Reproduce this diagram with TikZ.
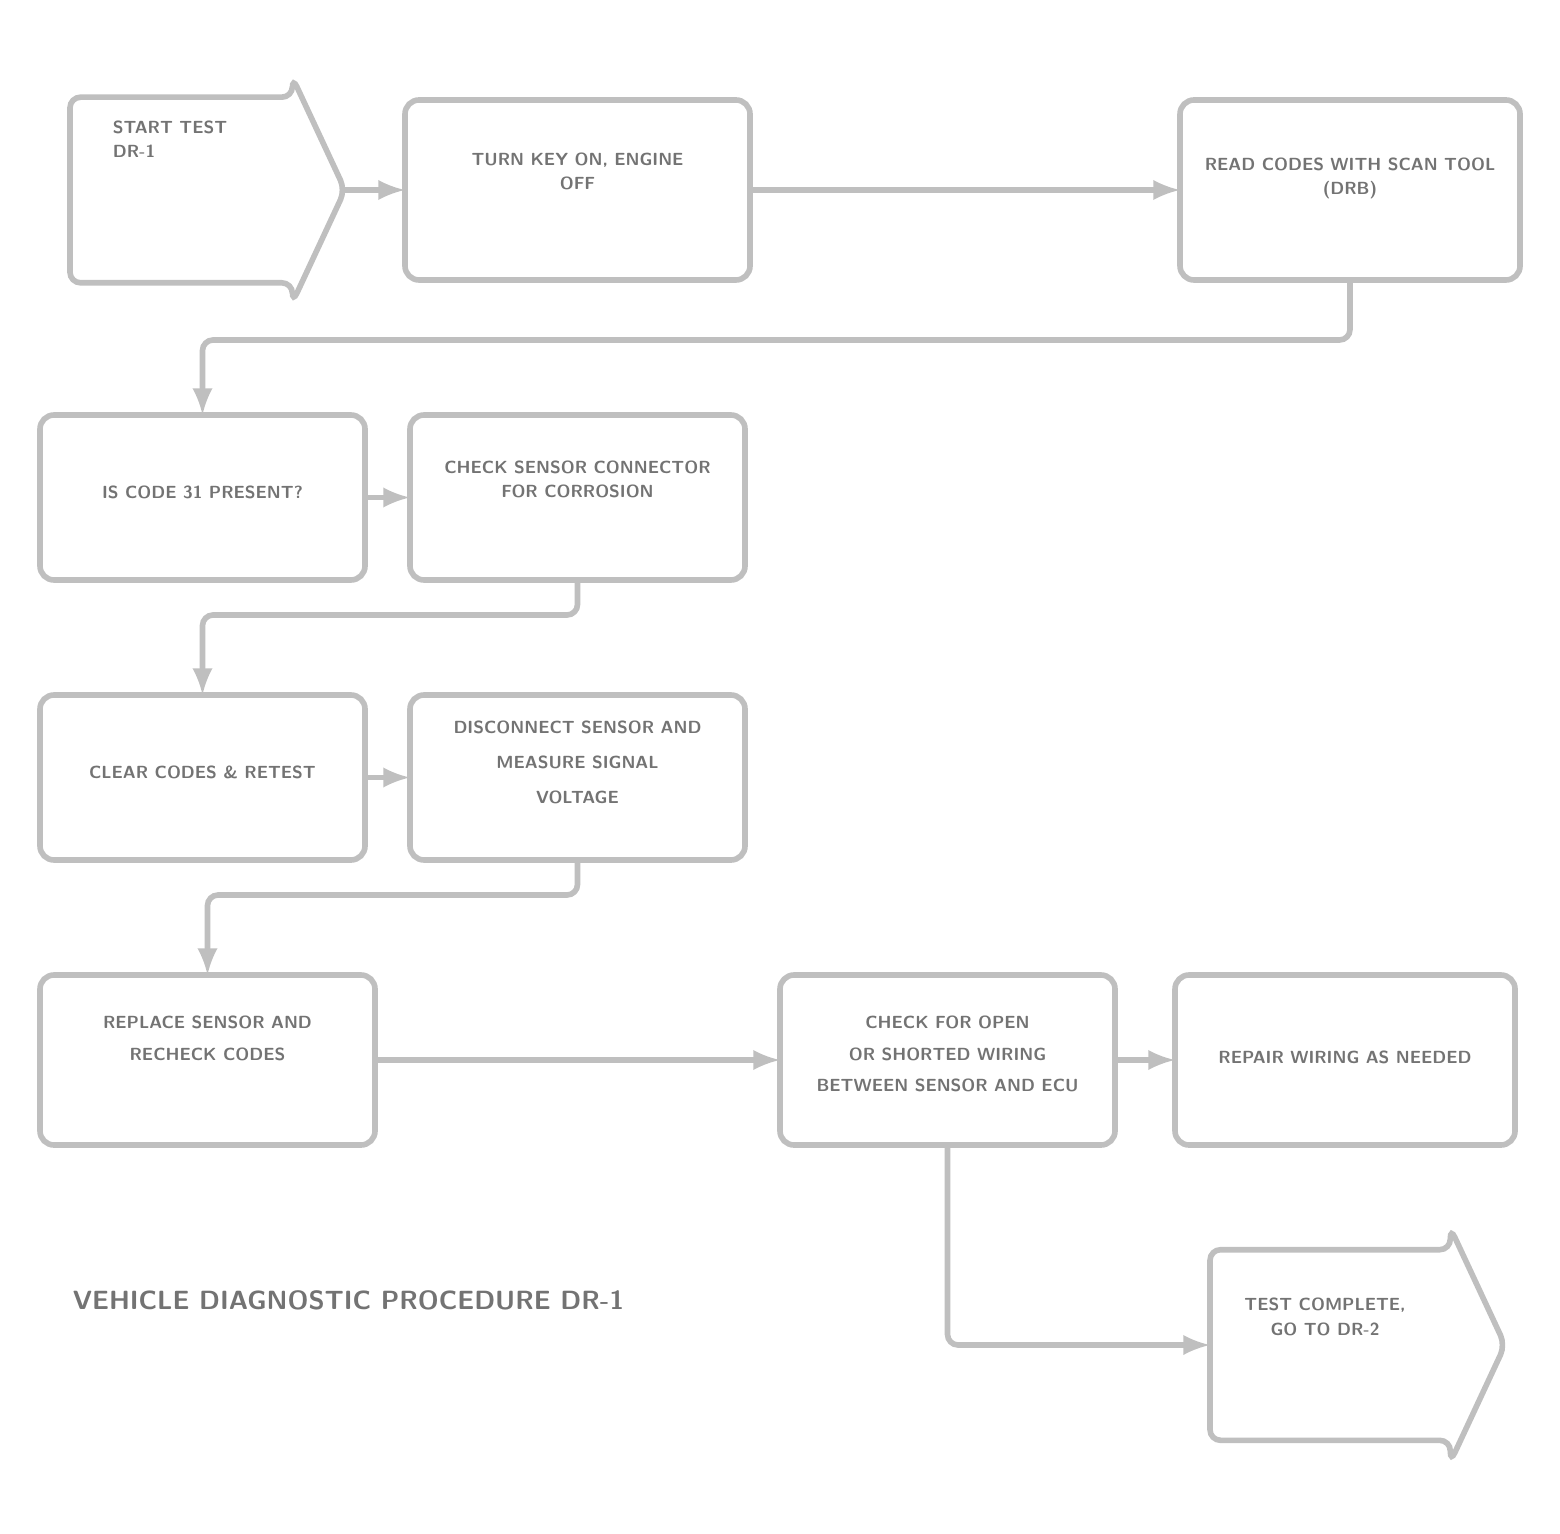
\documentclass[tikz,border=0pt]{standalone}
\usepackage{tikz}
\usetikzlibrary{positioning, shapes.arrows, calc}

\begin{document}
\begin{tikzpicture}[node distance=0.6cm, line width=1.6pt, >=latex]
	\tikzstyle{stepbox} = [draw=black!25, rounded corners=4pt, minimum width=3.35cm, minimum height=1.7cm, inner sep=0pt, outer sep=0pt];
	\tikzstyle{flagbox} = [draw=black!25, single arrow, single arrow tip angle=130, rounded corners=3pt, inner xsep=0pt, outer sep=0pt];
	\tikzstyle{txt} = [text=black!55, font=\fontsize{5}{7}\selectfont\sffamily\bfseries, align=center, inner sep=0pt];
	\tikzstyle{link} = [->, draw=black!25, rounded corners=3pt];
	
	\useasboundingbox (0,0) rectangle (15.60,-15.34);
	
	% first row
	\node[flagbox, minimum height=2.75cm, inner ysep=0.9cm, single arrow head extend=0.2cm, anchor=tail] (a1) at (0.70,-1.90) {};
	\node[stepbox, right = of a1.tip, minimum width=3.45cm, minimum height=1.8cm] (b2) {};
	\node[stepbox, right = 4.30cm of b2, minimum width=3.40cm, minimum height=1.8cm] (b3) {};
	
	% second and third row
	\node[stepbox, minimum width=3.25cm, minimum height=1.65cm] (d4) at (2.025,-4.975) {};
	\node[stepbox, right = 0.45cm of d4, minimum height=1.65cm] (e5) {};
	\node[stepbox, minimum width=3.25cm, minimum height=1.65cm] (f6) at (2.025,-7.775) {};
	\node[stepbox, right = 0.45cm of f6, minimum height=1.65cm] (g7) {};
	
	% fourth row
	\node[stepbox] (h8) at (2.075,-10.60) {};
	\node[stepbox, right = 4.05cm of h8] (i9) {};
	\node[stepbox, right = of i9, minimum width=3.40cm] (j10) {};
	\node[flagbox, minimum height=2.95cm, inner ysep=0.925cm, single arrow head extend=0.22cm, anchor=tail] (k11) at (12.10,-13.45) {};
	
	% texts
	\node[txt, align=left, anchor=north west] (t1) at ($(a1.tail)+(0.40,0.72)$) {START TEST\\ DR-1};
	\node[txt, below = 0.5cm of b2.north] (t2) {TURN KEY ON, ENGINE\\ OFF};
	\node[txt, below = 0.55cm of b3.north] (t3) {READ CODES WITH SCAN TOOL\\ (DRB)};
	\node[txt, below = 0.68cm of d4.north] (t4) {IS CODE 31 PRESENT?};
	\node[txt, below = 0.43cm of e5.north] (t5) {CHECK SENSOR CONNECTOR\\ FOR CORROSION};
	\node[txt, below = 0.68cm of f6.north] (t6) {CLEAR CODES \& RETEST};
	\node[txt, below = 0.23cm of g7.north] (t7) {DISCONNECT SENSOR AND\\[3pt] MEASURE SIGNAL\\[3pt] VOLTAGE};
	\node[txt, below = 0.38cm of h8.north] (t8) {REPLACE SENSOR AND\\[2pt] RECHECK CODES};
	\node[txt, below = 0.38cm of i9.north] (t9) {CHECK FOR OPEN\\[2pt] OR SHORTED WIRING\\[2pt] BETWEEN SENSOR AND ECU};
	\node[txt, below = 0.73cm of j10.north] (t10) {REPAIR WIRING AS NEEDED};
	\node[txt, anchor=north] (t11) at ($(k11.tail)+(1.15,0.50)$) {TEST COMPLETE,\\ GO TO DR-2};
	
	\node[txt, font=\fontsize{7.5}{9}\selectfont\sffamily\bfseries, anchor=west] (cap) at (0.70,-13.00) {VEHICLE DIAGNOSTIC PROCEDURE DR-1};
	
	% connectors
	\draw[link] (a1.tip) -- (b2);
	\draw[link] (b2) -- (b3);
	\draw[link] (b3.south) -- ++(0,-0.6) -| (d4.north);
	\draw[link] (d4) -- (e5);
	\draw[link] (e5.south) -- ++(0,-0.35) -| (f6.north);
	\draw[link] (f6) -- (g7);
	\draw[link] (g7.south) -- ++(0,-0.35) -| (h8.north);
	\draw[link] (h8) -- (i9);
	\draw[link] (i9) -- (j10);
	\draw[link] (i9.south) |- (k11.tail);
	
\end{tikzpicture}
\end{document}
